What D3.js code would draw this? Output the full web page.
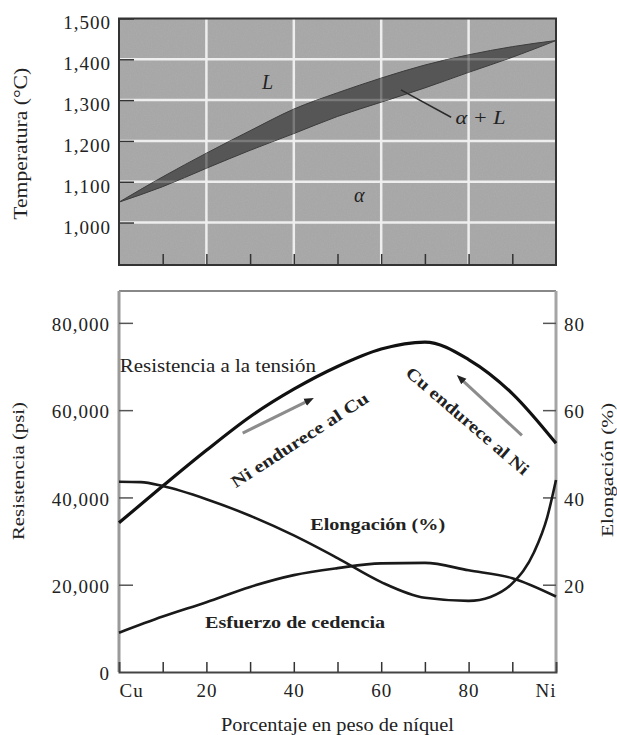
<!DOCTYPE html>
<html>
<head>
<meta charset="utf-8">
<script src="https://cdn.jsdelivr.net/npm/d3@7"></script>
<style>
body { margin: 0; background: #fff; }
svg text { font-family: "Liberation Serif", "Times New Roman", serif; fill: #222; }
</style>
</head>
<body>
<svg id="chart" width="617" height="735"></svg>
<script>
// Data

// phase diagram (top panel)
var nickelPct = [0, 10, 20, 30, 40, 50, 60, 70, 80, 90, 100];
var liquidus = [1050, 1112, 1170, 1225, 1278, 1318, 1354, 1386, 1411, 1431, 1446];
var solidus = [1050, 1088, 1133, 1177, 1218, 1260, 1295, 1330, 1368, 1405, 1446];
var tempTicks = [1000, 1100, 1200, 1300, 1400, 1500];
var tempGrid = [1000, 1100, 1200, 1300, 1400];
var pctGrid = [20, 40, 60, 80];

// mechanical properties (bottom panel)
var tensile = [34200, 42600, 50800, 58500, 64800, 70000, 74000, 75600, 71600, 63800, 52400];
var yieldStr = [9000, 12700, 16000, 19500, 22200, 23800, 24900, 25000, 23300, 21500, 17300];
var elongPct = [0, 5, 10, 20, 30, 40, 50, 60, 70, 80, 85, 90, 95, 98, 100];
var elongation = [43.6, 43.5, 42.6, 39.6, 35.8, 31.3, 26.1, 20.6, 17.0, 16.3, 17.2, 20.3, 27.5, 35.5, 44];
var psiTicks = [0, 20000, 40000, 60000, 80000];
var elongTicks = [20, 40, 60, 80];
var pctTicks = [0, 10, 20, 30, 40, 50, 60, 70, 80, 90, 100];
var pctLabels = {0: "Cu", 20: "20", 40: "40", 60: "60", 80: "80", 100: "Ni"};

// Scales

var svg = d3.select("#chart");
var x = d3.scaleLinear().domain([0, 100]).range([119, 556]);
var yT = d3.scaleLinear().domain([896, 1500]).range([265, 18.5]);
var yP = d3.scaleLinear().domain([0, 87300]).range([672, 291]);
var yE = d3.scaleLinear().domain([0, 87.3]).range([672, 291]);

var fmt = d3.format(",");

function fitText(sel, len) {
    sel.attr("textLength", len).attr("lengthAdjust", "spacingAndGlyphs");
    return sel;
}

var defs = svg.append("defs");

// speckled print texture for the grey panel
var grain = defs.append("filter").attr("id", "grain")
    .attr("x", 0).attr("y", 0).attr("width", 1).attr("height", 1);
grain.append("feTurbulence")
    .attr("type", "fractalNoise").attr("baseFrequency", 0.85)
    .attr("numOctaves", 2).attr("seed", 4).attr("result", "noise");
grain.append("feColorMatrix")
    .attr("in", "noise").attr("type", "matrix")
    .attr("values", "0 0 0 0 0.5  0 0 0 0 0.5  0 0 0 0 0.5  1.4 0 0 0 -0.55");

defs.append("marker")
    .attr("id", "head").attr("viewBox", "0 0 10 10")
    .attr("refX", 5).attr("refY", 5)
    .attr("markerWidth", 3.2).attr("markerHeight", 3.2)
    .attr("orient", "auto")
    .append("path").attr("d", "M0,1 L10,5 L0,9 Z").attr("fill", "#222");

// ---------- top panel ----------

var phase = svg.append("g");

phase.append("rect")
    .attr("x", x(0)).attr("y", yT(1500))
    .attr("width", x(100) - x(0)).attr("height", yT(896) - yT(1500))
    .attr("fill", "#a7a7a7");
phase.append("rect")
    .attr("x", x(0)).attr("y", yT(1500))
    .attr("width", x(100) - x(0)).attr("height", yT(896) - yT(1500))
    .attr("filter", "url(#grain)").attr("opacity", 0.35);

function drawGrid(g, color, opacity) {
    g.selectAll(".hg").data(tempGrid).enter().append("line")
        .attr("x1", x(0)).attr("x2", x(100))
        .attr("y1", function(d) { return yT(d); })
        .attr("y2", function(d) { return yT(d); })
        .attr("stroke", color).attr("stroke-width", 2.5).attr("opacity", opacity);
    g.selectAll(".vg").data(pctGrid).enter().append("line")
        .attr("y1", yT(1500)).attr("y2", yT(896))
        .attr("x1", function(d) { return x(d); })
        .attr("x2", function(d) { return x(d); })
        .attr("stroke", color).attr("stroke-width", 2.5).attr("opacity", opacity);
}
drawGrid(phase.append("g"), "#eeeeee", 1);

var band = nickelPct.map(function(p, i) { return {p: p, lo: solidus[i], hi: liquidus[i]}; });
var area = d3.area()
    .x(function(d) { return x(d.p); })
    .y0(function(d) { return yT(d.lo); })
    .y1(function(d) { return yT(d.hi); })
    .curve(d3.curveMonotoneX);

defs.append("clipPath").attr("id", "bandClip")
    .append("path").attr("d", area(band));

phase.append("path")
    .attr("d", area(band))
    .attr("fill", "#565656")
    .attr("stroke", "#3c3c3c")
    .attr("stroke-width", 1);

// grid faintly visible through the two-phase band
drawGrid(phase.append("g").attr("clip-path", "url(#bandClip)"), "#bdbdbd", 0.35);

phase.append("rect")
    .attr("x", x(0)).attr("y", yT(1500))
    .attr("width", x(100) - x(0)).attr("height", yT(896) - yT(1500))
    .attr("fill", "none").attr("stroke", "#333").attr("stroke-width", 2);

var tAxis = phase.append("g")
    .attr("transform", "translate(" + x(0) + ",0)")
    .call(d3.axisLeft(yT).tickValues(tempTicks).tickFormat(fmt).tickSize(-15).tickPadding(8));
tAxis.select(".domain").remove();
tAxis.selectAll("line").attr("stroke", "#333").attr("stroke-width", 1.5);
tAxis.selectAll("text")
    .attr("dy", "0.55em")
    .style("font-size", "19px").style("letter-spacing", "1px").attr("fill", "#333");

var tBottom = phase.append("g")
    .attr("transform", "translate(0," + yT(896) + ")")
    .call(d3.axisBottom(x).tickValues(pctTicks.slice(1, -1)).tickSize(-11).tickFormat(""));
tBottom.select(".domain").remove();
tBottom.selectAll("line").attr("stroke", "#333").attr("stroke-width", 1.5);

phase.append("text")
    .attr("x", x(34)).attr("y", yT(1345))
    .attr("text-anchor", "middle").attr("dominant-baseline", "central")
    .style("font-size", "20px").style("font-style", "italic").text("L");

phase.append("text")
    .attr("x", x(55)).attr("y", yT(1068))
    .attr("text-anchor", "middle").attr("dominant-baseline", "central")
    .style("font-size", "20px").style("font-style", "italic").text("α");

phase.append("line")
    .attr("x1", x(76)).attr("y1", yT(1258))
    .attr("x2", x(64.5)).attr("y2", yT(1325))
    .attr("stroke", "#2a2a2a").attr("stroke-width", 1.5);

fitText(phase.append("text")
    .attr("x", x(77)).attr("y", yT(1257))
    .attr("dominant-baseline", "central")
    .style("font-size", "19px").style("font-style", "italic").text("α + L"), 50);

fitText(phase.append("text")
    .attr("transform", "translate(21," + ((yT(1500) + yT(896)) / 2 + 2) + ") rotate(-90)")
    .attr("text-anchor", "middle").attr("dominant-baseline", "central")
    .style("font-size", "18px").text("Temperatura (°C)"), 152);

// ---------- bottom panel ----------

var props = svg.append("g");

props.append("line")
    .attr("x1", x(0)).attr("x2", x(100)).attr("y1", yP(87300)).attr("y2", yP(87300))
    .attr("stroke", "#888").attr("stroke-width", 2);
props.append("line")
    .attr("x1", x(0)).attr("x2", x(0)).attr("y1", yP(87300)).attr("y2", yP(0))
    .attr("stroke", "#9a9a9a").attr("stroke-width", 3);
props.append("line")
    .attr("x1", x(100)).attr("x2", x(100)).attr("y1", yP(87300)).attr("y2", yP(0))
    .attr("stroke", "#a5a5a5").attr("stroke-width", 3);

var pAxis = props.append("g")
    .attr("transform", "translate(" + x(0) + ",0)")
    .call(d3.axisLeft(yP).tickValues(psiTicks).tickFormat(fmt).tickSize(-14).tickPadding(9));
pAxis.select(".domain").remove();
pAxis.selectAll("line").attr("stroke", "#555").attr("stroke-width", 1.5);
pAxis.selectAll(".tick").filter(function(d) { return d === 0; }).select("line").remove();
pAxis.selectAll("text")
    .attr("dy", "0.4em")
    .style("font-size", "19px").style("letter-spacing", "1px").attr("fill", "#333");

var eAxis = props.append("g")
    .attr("transform", "translate(" + x(100) + ",0)")
    .call(d3.axisRight(yE).tickValues(elongTicks).tickSize(-13).tickPadding(8));
eAxis.select(".domain").remove();
eAxis.selectAll("line").attr("stroke", "#555").attr("stroke-width", 1.5);
eAxis.selectAll("text")
    .attr("dy", "0.4em")
    .style("font-size", "19px").style("letter-spacing", "1px").attr("fill", "#333");

var xAxis = props.append("g")
    .attr("transform", "translate(0," + yP(0) + ")")
    .call(d3.axisBottom(x).tickValues(pctTicks).tickSize(-10).tickPadding(12)
        .tickFormat(function(d) { return pctLabels[d] || ""; }));
xAxis.select(".domain").attr("stroke", "#444").attr("stroke-width", 2);
xAxis.selectAll("line").attr("stroke", "#333").attr("stroke-width", 1.5);
xAxis.selectAll(".tick").filter(function(d) { return d === 0 || d === 100; }).select("line").remove();
xAxis.selectAll("text")
    .style("font-size", "19px").style("letter-spacing", "1px").attr("fill", "#333")
    .attr("text-anchor", function(d) { return d === 0 ? "start" : (d === 100 ? "end" : "middle"); });

// curves
var psiLine = d3.line()
    .x(function(d) { return x(d[0]); })
    .y(function(d) { return yP(d[1]); })
    .curve(d3.curveMonotoneX);
var elongLine = d3.line()
    .x(function(d) { return x(d[0]); })
    .y(function(d) { return yE(d[1]); })
    .curve(d3.curveMonotoneX);

props.append("path")
    .attr("d", psiLine(d3.zip(nickelPct, tensile)))
    .attr("fill", "none").attr("stroke", "#111").attr("stroke-width", 3.2);
props.append("path")
    .attr("d", psiLine(d3.zip(nickelPct, yieldStr)))
    .attr("fill", "none").attr("stroke", "#1a1a1a").attr("stroke-width", 2.6);
props.append("path")
    .attr("d", elongLine(d3.zip(elongPct, elongation)))
    .attr("fill", "none").attr("stroke", "#1a1a1a").attr("stroke-width", 2.6);

// annotations
props.append("line")
    .attr("x1", x(28.3)).attr("y1", yP(54750))
    .attr("x2", x(43.6)).attr("y2", yP(62300))
    .attr("stroke", "#8c8c8c").attr("stroke-width", 3)
    .attr("marker-end", "url(#head)");
props.append("line")
    .attr("x1", x(92.2)).attr("y1", yP(54200))
    .attr("x2", x(78.1)).attr("y2", yP(67300))
    .attr("stroke", "#8c8c8c").attr("stroke-width", 3)
    .attr("marker-end", "url(#head)");

fitText(props.append("text")
    .attr("x", x(0.2)).attr("y", yP(68700))
    .style("font-size", "18px").text("Resistencia a la tensión"), 196);

fitText(props.append("text")
    .attr("transform", "translate(" + x(41.4) + "," + yP(53150) + ") rotate(-33)")
    .attr("text-anchor", "middle").attr("dominant-baseline", "central")
    .style("font-size", "17px").style("font-weight", "bold").text("Ni endurece al Cu"), 160);

fitText(props.append("text")
    .attr("transform", "translate(" + x(79.7) + "," + yP(57500) + ") rotate(40.6)")
    .attr("text-anchor", "middle").attr("dominant-baseline", "central")
    .style("font-size", "17px").style("font-weight", "bold").text("Cu endurece al Ni"), 156);

fitText(props.append("text")
    .attr("x", x(59.2)).attr("y", yP(32500))
    .attr("text-anchor", "middle")
    .style("font-size", "17px").style("font-weight", "bold").text("Elongación (%)"), 135);

fitText(props.append("text")
    .attr("x", x(40.3)).attr("y", yP(10100))
    .attr("text-anchor", "middle")
    .style("font-size", "17px").style("font-weight", "bold").text("Esfuerzo de cedencia"), 180);

fitText(props.append("text")
    .attr("transform", "translate(18,471) rotate(-90)")
    .attr("text-anchor", "middle").attr("dominant-baseline", "central")
    .style("font-size", "17px").text("Resistencia (psi)"), 138);

fitText(props.append("text")
    .attr("transform", "translate(607,470) rotate(-90)")
    .attr("text-anchor", "middle").attr("dominant-baseline", "central")
    .style("font-size", "17px").text("Elongación (%)"), 134);

fitText(props.append("text")
    .attr("x", (x(0) + x(100)) / 2).attr("y", 731)
    .attr("text-anchor", "middle")
    .style("font-size", "18px").text("Porcentaje en peso de níquel"), 233);
</script>
</body>
</html>
